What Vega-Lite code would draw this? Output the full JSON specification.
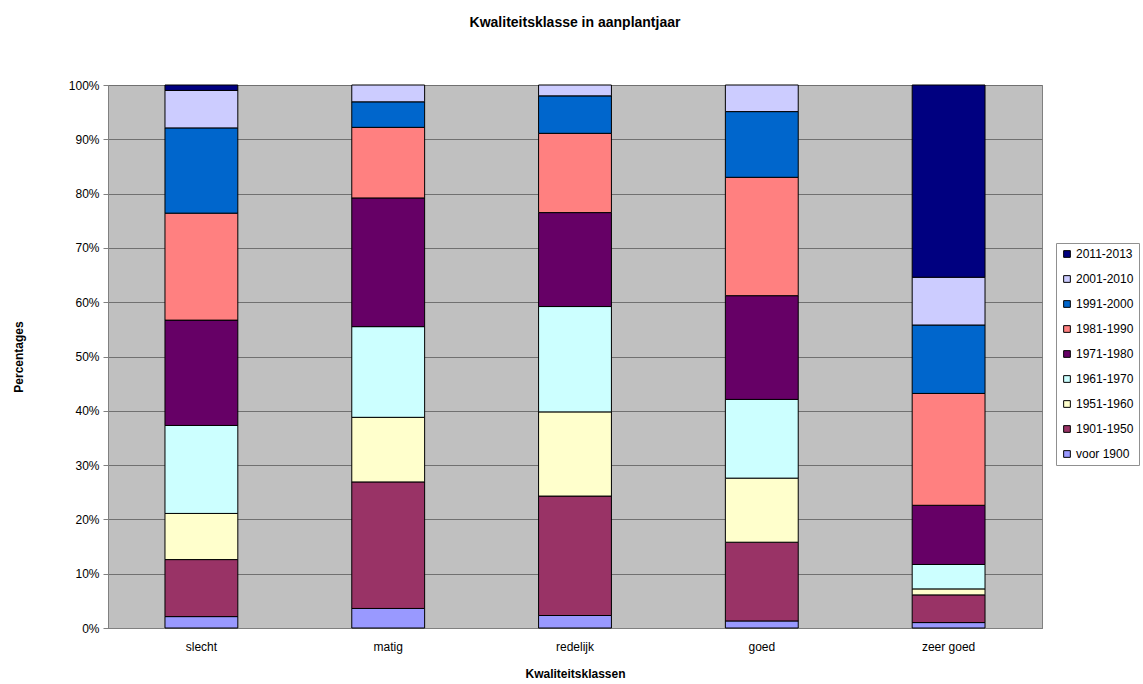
{
  "$schema": "https://vega.github.io/schema/vega-lite/v6.json",
  "autosize": "none",
  "width": 934,
  "height": 543,
  "padding": {"left": 108, "top": 85, "right": 101, "bottom": 56},
  "background": "white",
  "title": {
    "text": "Kwaliteitsklasse in aanplantjaar",
    "font": "Liberation Sans",
    "fontSize": 14,
    "fontWeight": "bold",
    "color": "black",
    "anchor": "middle",
    "offset": 49
  },
  "config": {
    "view": {"fill": "#C0C0C0", "stroke": "#808080", "strokeWidth": 1},
    "font": "Liberation Sans"
  },
  "data": {
    "values": [
      {"klasse": "slecht", "periode": "voor 1900", "idx": 1, "pct": 2.1},
      {"klasse": "slecht", "periode": "1901-1950", "idx": 2, "pct": 10.5},
      {"klasse": "slecht", "periode": "1951-1960", "idx": 3, "pct": 8.5},
      {"klasse": "slecht", "periode": "1961-1970", "idx": 4, "pct": 16.2},
      {"klasse": "slecht", "periode": "1971-1980", "idx": 5, "pct": 19.4},
      {"klasse": "slecht", "periode": "1981-1990", "idx": 6, "pct": 19.7},
      {"klasse": "slecht", "periode": "1991-2000", "idx": 7, "pct": 15.7},
      {"klasse": "slecht", "periode": "2001-2010", "idx": 8, "pct": 6.9},
      {"klasse": "slecht", "periode": "2011-2013", "idx": 9, "pct": 1.0},
      {"klasse": "matig", "periode": "voor 1900", "idx": 1, "pct": 3.6},
      {"klasse": "matig", "periode": "1901-1950", "idx": 2, "pct": 23.3},
      {"klasse": "matig", "periode": "1951-1960", "idx": 3, "pct": 11.9},
      {"klasse": "matig", "periode": "1961-1970", "idx": 4, "pct": 16.7},
      {"klasse": "matig", "periode": "1971-1980", "idx": 5, "pct": 23.7},
      {"klasse": "matig", "periode": "1981-1990", "idx": 6, "pct": 13.0},
      {"klasse": "matig", "periode": "1991-2000", "idx": 7, "pct": 4.7},
      {"klasse": "matig", "periode": "2001-2010", "idx": 8, "pct": 3.1},
      {"klasse": "redelijk", "periode": "voor 1900", "idx": 1, "pct": 2.3},
      {"klasse": "redelijk", "periode": "1901-1950", "idx": 2, "pct": 22.0},
      {"klasse": "redelijk", "periode": "1951-1960", "idx": 3, "pct": 15.5},
      {"klasse": "redelijk", "periode": "1961-1970", "idx": 4, "pct": 19.4},
      {"klasse": "redelijk", "periode": "1971-1980", "idx": 5, "pct": 17.3},
      {"klasse": "redelijk", "periode": "1981-1990", "idx": 6, "pct": 14.6},
      {"klasse": "redelijk", "periode": "1991-2000", "idx": 7, "pct": 6.9},
      {"klasse": "redelijk", "periode": "2001-2010", "idx": 8, "pct": 2.0},
      {"klasse": "goed", "periode": "voor 1900", "idx": 1, "pct": 1.3},
      {"klasse": "goed", "periode": "1901-1950", "idx": 2, "pct": 14.5},
      {"klasse": "goed", "periode": "1951-1960", "idx": 3, "pct": 11.8},
      {"klasse": "goed", "periode": "1961-1970", "idx": 4, "pct": 14.5},
      {"klasse": "goed", "periode": "1971-1980", "idx": 5, "pct": 19.1},
      {"klasse": "goed", "periode": "1981-1990", "idx": 6, "pct": 21.8},
      {"klasse": "goed", "periode": "1991-2000", "idx": 7, "pct": 12.1},
      {"klasse": "goed", "periode": "2001-2010", "idx": 8, "pct": 4.9},
      {"klasse": "zeer goed", "periode": "voor 1900", "idx": 1, "pct": 1.0},
      {"klasse": "zeer goed", "periode": "1901-1950", "idx": 2, "pct": 5.1},
      {"klasse": "zeer goed", "periode": "1951-1960", "idx": 3, "pct": 1.1},
      {"klasse": "zeer goed", "periode": "1961-1970", "idx": 4, "pct": 4.5},
      {"klasse": "zeer goed", "periode": "1971-1980", "idx": 5, "pct": 10.9},
      {"klasse": "zeer goed", "periode": "1981-1990", "idx": 6, "pct": 20.6},
      {"klasse": "zeer goed", "periode": "1991-2000", "idx": 7, "pct": 12.6},
      {"klasse": "zeer goed", "periode": "2001-2010", "idx": 8, "pct": 8.8},
      {"klasse": "zeer goed", "periode": "2011-2013", "idx": 9, "pct": 35.4}
    ]
  },
  "mark": {"type": "bar", "stroke": "black", "strokeWidth": 1},
  "encoding": {
    "x": {
      "field": "klasse",
      "type": "nominal",
      "sort": ["slecht", "matig", "redelijk", "goed", "zeer goed"],
      "scale": {"paddingInner": 0.61, "paddingOuter": 0.305},
      "axis": {
        "title": "Kwaliteitsklassen",
        "titleFont": "Liberation Sans",
        "titleFontSize": 12,
        "titleFontWeight": "bold",
        "titleColor": "black",
        "titlePadding": 16,
        "labelAngle": 0,
        "labelFontSize": 12,
        "labelColor": "black",
        "labelPadding": 13,
        "ticks": false,
        "domainColor": "#808080",
        "grid": false
      }
    },
    "y": {
      "field": "pct",
      "type": "quantitative",
      "stack": "normalize",
      "scale": {"domain": [0, 1], "nice": false},
      "axis": {
        "title": "Percentages",
        "format": ".0%",
        "values": [0, 0.1, 0.2, 0.3, 0.4, 0.5, 0.6, 0.7, 0.8, 0.9, 1.0],
        "titleFont": "Liberation Sans",
        "titleFontSize": 12,
        "titleFontWeight": "bold",
        "titleColor": "black",
        "titlePadding": 43,
        "labelFontSize": 12,
        "labelColor": "black",
        "labelPadding": 4,
        "tickColor": "#808080",
        "tickSize": 5,
        "domainColor": "#808080",
        "grid": true,
        "gridColor": "#707070",
        "gridOpacity": 1,
        "gridWidth": 1
      }
    },
    "color": {
      "field": "periode",
      "type": "nominal",
      "scale": {
        "domain": ["2011-2013", "2001-2010", "1991-2000", "1981-1990", "1971-1980", "1961-1970", "1951-1960", "1901-1950", "voor 1900"],
        "range": ["#000080", "#CCCCFF", "#0066CC", "#FF8080", "#660066", "#CCFFFF", "#FFFFCC", "#993366", "#9999FF"]
      },
      "legend": {
        "title": null,
        "orient": "none",
        "legendX": 948,
        "legendY": 158,
        "strokeColor": "#909090",
        "padding": 5,
        "symbolType": "square",
        "symbolSize": 45,
        "symbolStrokeColor": "black",
        "symbolStrokeWidth": 1,
        "labelFontSize": 12,
        "labelColor": "black",
        "labelOffset": 3,
        "rowPadding": 13
      }
    },
    "order": {"field": "idx", "type": "quantitative", "sort": "ascending"}
  }
}
